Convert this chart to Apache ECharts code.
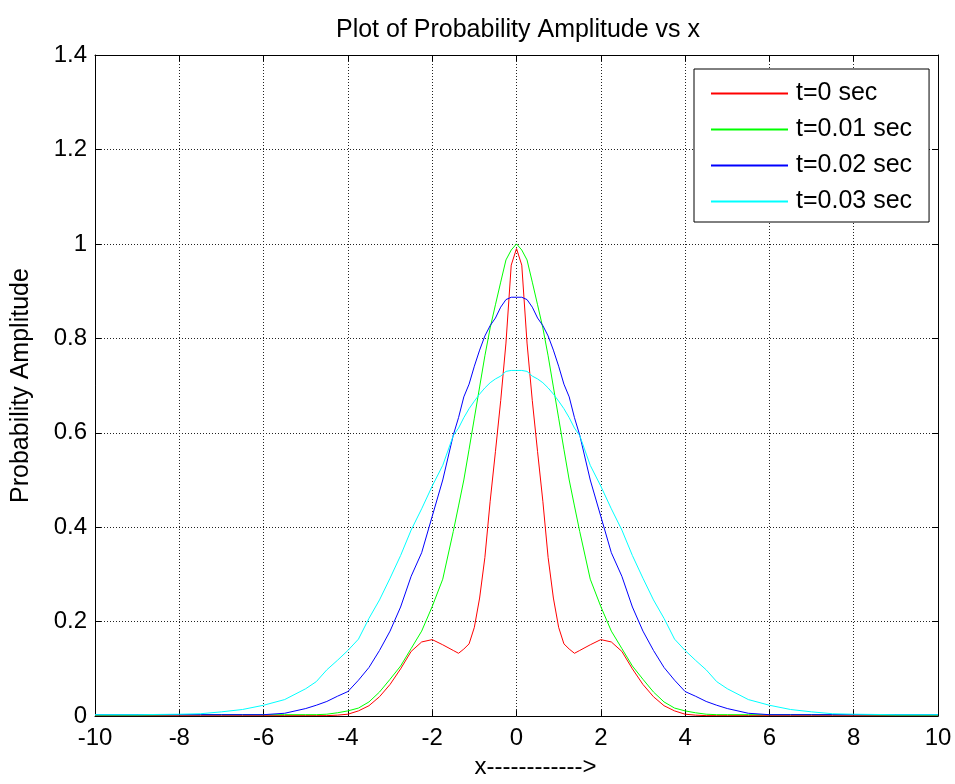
<!DOCTYPE html>
<html>
<head>
<meta charset="utf-8">
<script src="https://cdn.jsdelivr.net/npm/echarts@6/dist/echarts.min.js"></script>
<style>html,body{margin:0;padding:0;background:#fff}#c{width:955px;height:784px}</style>
</head>
<body>
<div id="c"></div>
<script>
const xs = [-10,-9,-8,-7.5,-7,-6.5,-6,-5.5,-5,-4.75,-4.5,-4.25,-4,-3.75,-3.5,-3.25,-3,-2.75,-2.5,-2.25,-2,-1.75,-1.5,-1.375,-1.25,-1.125,-1,-0.875,-0.75,-0.625,-0.5,-0.375,-0.25,-0.125,0,0.125,0.25,0.375,0.5,0.625,0.75,0.875,1,1.125,1.25,1.375,1.5,1.75,2,2.25,2.5,2.75,3,3.25,3.5,3.75,4,4.25,4.5,4.75,5,5.5,6,6.5,7,7.5,8,9,10];

const t0 = [0.001,0.001,0.001,0.001,0.001,0.001,0.001,0.001,0.001,0.001,0.001,0.002,0.004,0.011,0.022,0.041,0.067,0.100,0.137,0.157,0.162,0.151,0.139,0.133,0.142,0.153,0.188,0.250,0.336,0.455,0.560,0.668,0.790,0.955,0.990,0.955,0.790,0.668,0.560,0.455,0.336,0.250,0.188,0.153,0.142,0.133,0.139,0.151,0.162,0.157,0.137,0.100,0.067,0.041,0.022,0.011,0.004,0.002,0.001,0.001,0.001,0.001,0.001,0.001,0.001,0.001,0.001,0.001,0.001];

const t001 = [0.002,0.002,0.003,0.003,0.003,0.003,0.003,0.003,0.003,0.003,0.004,0.007,0.011,0.017,0.030,0.051,0.078,0.106,0.143,0.180,0.232,0.290,0.391,0.445,0.500,0.565,0.631,0.697,0.763,0.822,0.871,0.919,0.966,0.987,1.000,0.987,0.966,0.919,0.871,0.822,0.763,0.697,0.631,0.565,0.500,0.445,0.391,0.290,0.232,0.180,0.143,0.106,0.078,0.051,0.030,0.017,0.011,0.007,0.004,0.003,0.003,0.003,0.003,0.003,0.003,0.003,0.003,0.002,0.002];

const t002 = [0.003,0.003,0.003,0.003,0.003,0.003,0.003,0.006,0.016,0.023,0.031,0.042,0.052,0.076,0.103,0.139,0.180,0.231,0.296,0.346,0.423,0.500,0.595,0.632,0.676,0.703,0.741,0.775,0.805,0.827,0.843,0.866,0.882,0.887,0.887,0.887,0.882,0.866,0.843,0.827,0.805,0.775,0.741,0.703,0.676,0.632,0.595,0.500,0.423,0.346,0.296,0.231,0.180,0.139,0.103,0.076,0.052,0.042,0.031,0.023,0.016,0.006,0.003,0.003,0.003,0.003,0.003,0.003,0.003];

const t003 = [0.003,0.003,0.004,0.005,0.009,0.014,0.023,0.035,0.058,0.073,0.098,0.118,0.139,0.163,0.207,0.246,0.292,0.340,0.394,0.439,0.487,0.531,0.594,0.610,0.632,0.651,0.667,0.682,0.695,0.706,0.714,0.720,0.730,0.732,0.732,0.732,0.730,0.720,0.714,0.706,0.695,0.682,0.667,0.651,0.632,0.610,0.594,0.531,0.487,0.439,0.394,0.340,0.292,0.246,0.207,0.163,0.139,0.118,0.098,0.073,0.058,0.035,0.023,0.014,0.009,0.005,0.004,0.003,0.003];

const seriesNames = ['t=0 sec','t=0.01 sec','t=0.02 sec','t=0.03 sec'];
const seriesColors = ['#ff0000','#00ff00','#0000ff','#00ffff'];
const seriesValues = [t0, t001, t002, t003];

const FONT = 'Liberation Sans, Arial, sans-serif';
const chart = echarts.init(document.getElementById('c'), null, {renderer:'canvas'});

const tickInside = {show:true, inside:true, length:6, lineStyle:{color:'#000'}};
const axisLineBlack = {show:true, onZero:false, lineStyle:{color:'#000', width:1}};
const split = {show:true, lineStyle:{color:'#222', type:[1,2], width:1}};

chart.setOption({
  animation:false,
  backgroundColor:'#fff',
  title:{text:'Plot of Probability Amplitude vs x', left:513, top:13, textAlign:'center',
    textStyle:{fontFamily:FONT, fontSize:25, fontWeight:'normal', color:'#000'}},
  legend:{
    orient:'vertical', left:694, top:69,
    padding:[12,17,8,16], itemGap:11, itemWidth:77, itemHeight:14,
    itemStyle:{opacity:0},
    backgroundColor:'#fff', borderColor:'#000', borderWidth:1,
    textStyle:{fontFamily:FONT, fontSize:25, color:'#000', lineHeight:25, padding:[0,0,0,3]},
    data:seriesNames
  },
  grid:{left:95, top:55, width:843, height:665, containLabel:false},
  xAxis:[
    {type:'value', min:-10, max:10, interval:2, position:'bottom',
     axisLine:axisLineBlack, axisTick:tickInside, splitLine:split,
     axisLabel:{fontFamily:FONT, fontSize:24, color:'#000', margin:10},
     name:'x------------>', nameLocation:'middle', nameGap:38,
     nameTextStyle:{fontFamily:FONT, fontSize:24, color:'#000', padding:[0,0,0,38]}},
    {type:'value', min:-10, max:10, interval:2, position:'top',
     axisLine:axisLineBlack, axisTick:tickInside, splitLine:{show:false},
     axisLabel:{show:false}}
  ],
  yAxis:[
    {type:'value', min:0, max:1.4, interval:0.2, position:'left',
     axisLine:axisLineBlack, axisTick:tickInside, splitLine:split,
     axisLabel:{fontFamily:FONT, fontSize:24, color:'#000', margin:8},
     name:'Probability Amplitude', nameLocation:'middle', nameGap:61, nameRotate:90,
     nameTextStyle:{fontFamily:FONT, fontSize:25, color:'#000'}},
    {type:'value', min:0, max:1.4, interval:0.2, position:'right',
     axisLine:axisLineBlack, axisTick:tickInside, splitLine:{show:false},
     axisLabel:{show:false}}
  ],
  series: seriesNames.map((n,i)=>({
    name:n, type:'line', xAxisIndex:0, yAxisIndex:0,
    symbol:'none', showSymbol:false,
    lineStyle:{color:seriesColors[i], width:1},
    itemStyle:{color:seriesColors[i]},
    data: xs.map((x,j)=>[x, seriesValues[i][j]])
  }))
});
</script>
</body>
</html>
